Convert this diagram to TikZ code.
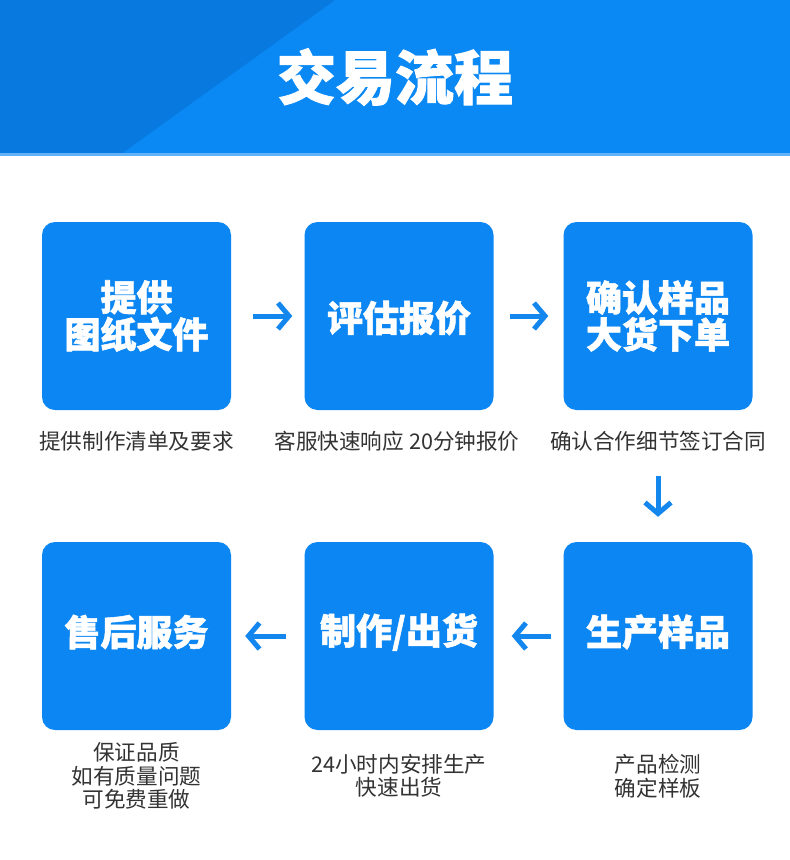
\documentclass[tikz,border=0pt]{standalone}
\usepackage{fontspec}
\usetikzlibrary{arrows.meta}
\newfontfamily\cjk{Noto Sans CJK SC}
\newfontfamily\cjkb{Noto Sans CJK SC}[BoldFeatures={FakeBold=1.5}]
\definecolor{hdr}{HTML}{0A88F4}
\definecolor{hdrdark}{HTML}{0779DF}
\definecolor{hdrline}{HTML}{62B2F7}
\definecolor{boxblue}{HTML}{0B86F2}
\definecolor{arrblue}{HTML}{1487EE}
\definecolor{captxt}{HTML}{333333}
\tikzset{
  stepbox/.style={fill=boxblue, rounded corners=13pt, minimum width=189pt, minimum height=188pt, inner sep=0pt},
  boxtext/.style={text=white, align=center, inner sep=0pt, font=\cjkb\bfseries\fontsize{36}{37}\selectfont},
  caption/.style={text=captxt, align=center, font=\cjk\fontsize{21.6}{23.5}\selectfont, inner sep=0pt},
  flow/.style={draw=arrblue, line width=5pt, -{Straight Barb[length=11pt,width=26pt,line width=5pt]}}
}
\begin{document}
\begin{tikzpicture}[x=1pt,y=-1pt]
\useasboundingbox (0,0) rectangle (790,860);
\fill[white] (0,0) rectangle (790,860);
% header
\fill[hdr] (0,0) rectangle (790,154);
\fill[hdrdark] (0,0) -- (335,0) -- (121,154) -- (0,154) -- cycle;
\fill[hdrline] (0,153) rectangle (790,156);
\node[text=white, font=\cjkb\bfseries\fontsize{59}{62}\selectfont, inner sep=0pt] (title) at (395,77) {交易流程};
% boxes
\node[stepbox] (b1) at (136.5,316) {};
\node[stepbox] (b2) at (399,316) {};
\node[stepbox] (b3) at (658,316) {};
\node[stepbox] (b4) at (136.5,636) {};
\node[stepbox] (b5) at (399,636) {};
\node[stepbox] (b6) at (658,636) {};
\node[boxtext] (t1) at (b1.center) {提供\\图纸文件};
\node[boxtext] (t2) at ([yshift=-2pt]b2.center) {评估报价};
\node[boxtext] (t3) at (b3.center) {确认样品\\大货下单};
\node[boxtext] (t4) at ([yshift=4pt]b4.center) {售后服务};
\node[boxtext] (t5) at ([yshift=4pt]b5.center) {制作/出货};
\node[boxtext] (t6) at ([yshift=4pt]b6.center) {生产样品};
% captions
\node[caption] (c1) at (136.5,441) {提供制作清单及要求};
\node[caption] (c2) at (397,441) {客服快速响应 20分钟报价};
\node[caption] (c3) at (658,441) {确认合作细节签订合同};
\node[caption] (c4) at (136.5,776) {保证品质\\如有质量问题\\可免费重做};
\node[caption] (c5) at (399,776) {24小时内安排生产\\快速出货};
\node[caption] (c6) at (658,776) {产品检测\\确定样板};
% connectors
\draw[flow, shorten <=22pt, shorten >=12pt] (b1.east) -- (b2.west);
\draw[flow, shorten <=16pt, shorten >=15pt] (b2.east) -- (b3.west);
\draw[flow, shorten <=25pt, shorten >=25pt] (c3.south) -- (b6.north);
\draw[flow, shorten <=12pt, shorten >=18pt] (b6.west) -- (b5.east);
\draw[flow, shorten <=18pt, shorten >=14pt] (b5.west) -- (b4.east);
\end{tikzpicture}
\end{document}
